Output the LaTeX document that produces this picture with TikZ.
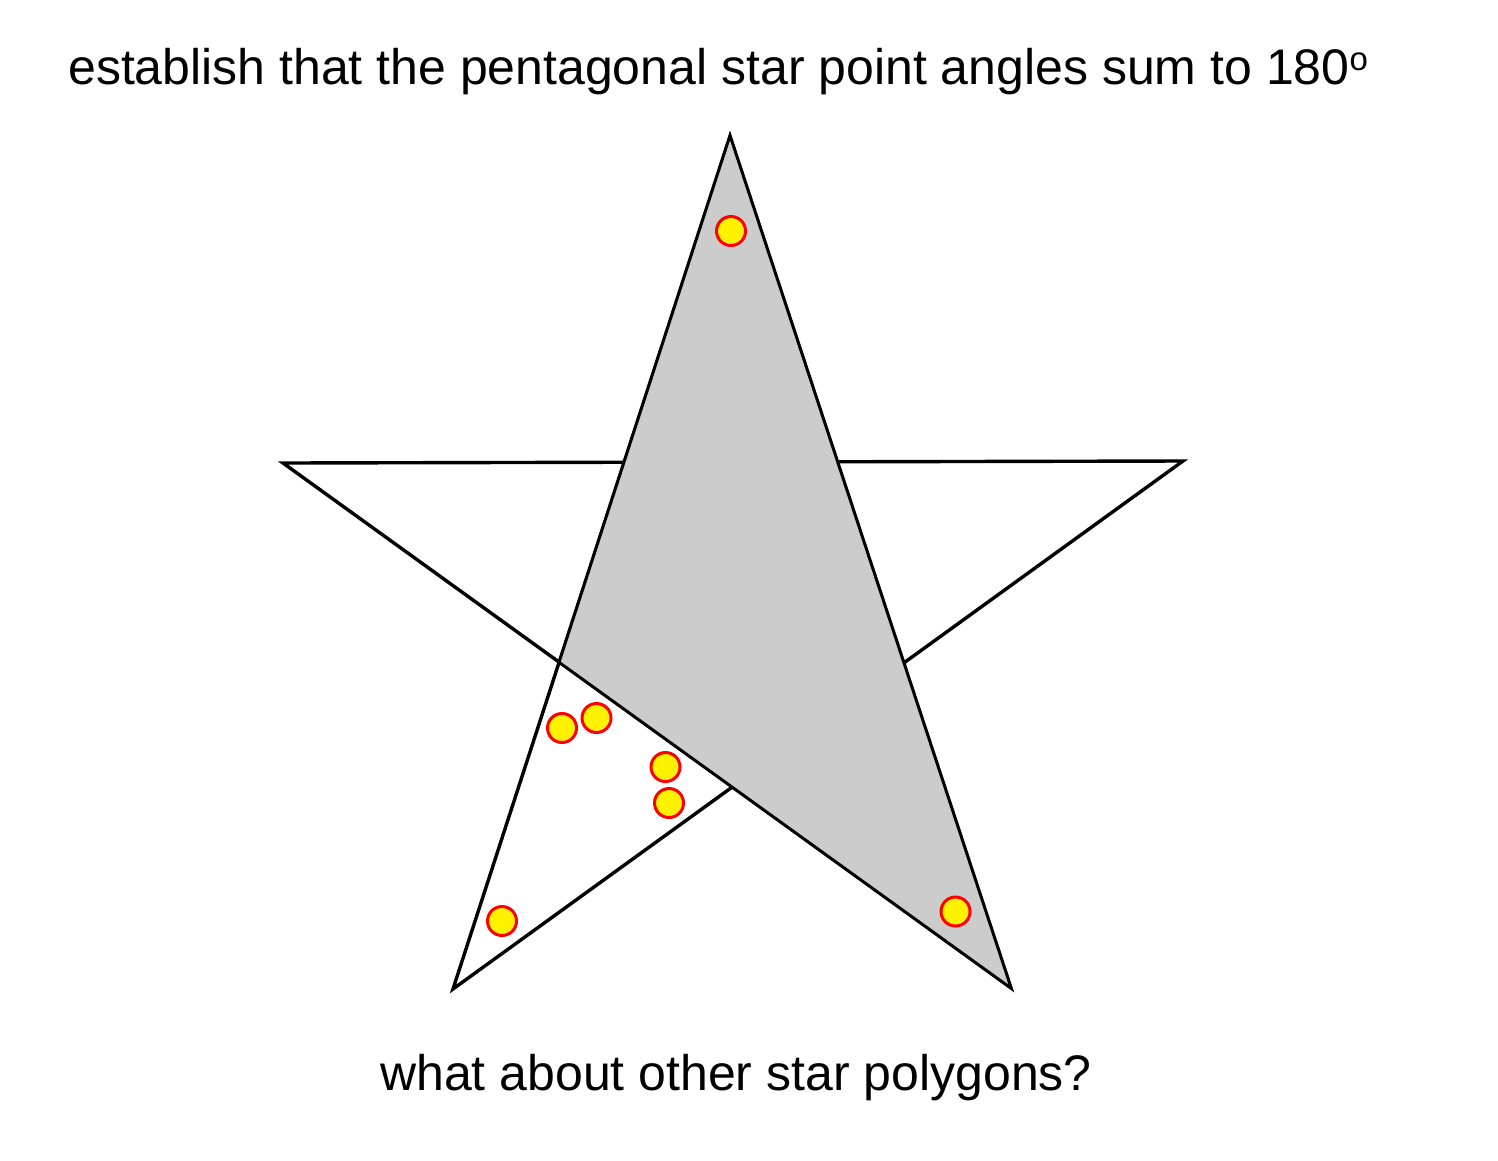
\documentclass[tikz,border=0pt]{standalone}
\usepackage{fontspec}
\setmainfont{Liberation Sans}
\definecolor{trigray}{RGB}{204,204,204}
\tikzset{
  starline/.style={draw=black, line width=3.4pt, line join=miter},
  triline/.style={draw=black, fill=trigray, line width=2.6pt, line join=miter},
  dot/.style={circle, draw=red, fill=yellow, line width=3pt, minimum size=29pt, inner sep=0pt},
  bigtext/.style={font=\fontsize{50}{60}\selectfont, inner sep=0pt}
}
\begin{document}
\begin{tikzpicture}[x=1pt,y=-1pt]
\useasboundingbox (0,0) rectangle (1498,1160);
\coordinate (T) at (730,136);
\coordinate (R) at (1183,461);
\coordinate (BR) at (1011,988);
\coordinate (BL) at (453,989);
\coordinate (L) at (283,463);
\draw[starline] (T) -- (BL) -- (R) -- (L) -- (BR) -- cycle;
\coordinate (PL) at (intersection of T--BL and L--BR);
\filldraw[triline] (T) -- (PL) -- (BR) -- cycle;
\node[dot] (d1) at (731,231) {};
\node[dot] (d2) at (562,728) {};
\node[dot] (d3) at (596.5,718) {};
\node[dot] (d4) at (665.5,767) {};
\node[dot] (d5) at (669,803) {};
\node[dot] (d6) at (502,921) {};
\node[dot] (d7) at (955.5,911.5) {};
\node[bigtext, anchor=base west] (title) at (68,84) {establish that the pentagonal star point angles sum to 180\raisebox{14pt}{\fontsize{33}{33}\selectfont o}};
\node[bigtext, anchor=base west] (question) at (380,1090) {what about other star polygons?};
\end{tikzpicture}
\end{document}
